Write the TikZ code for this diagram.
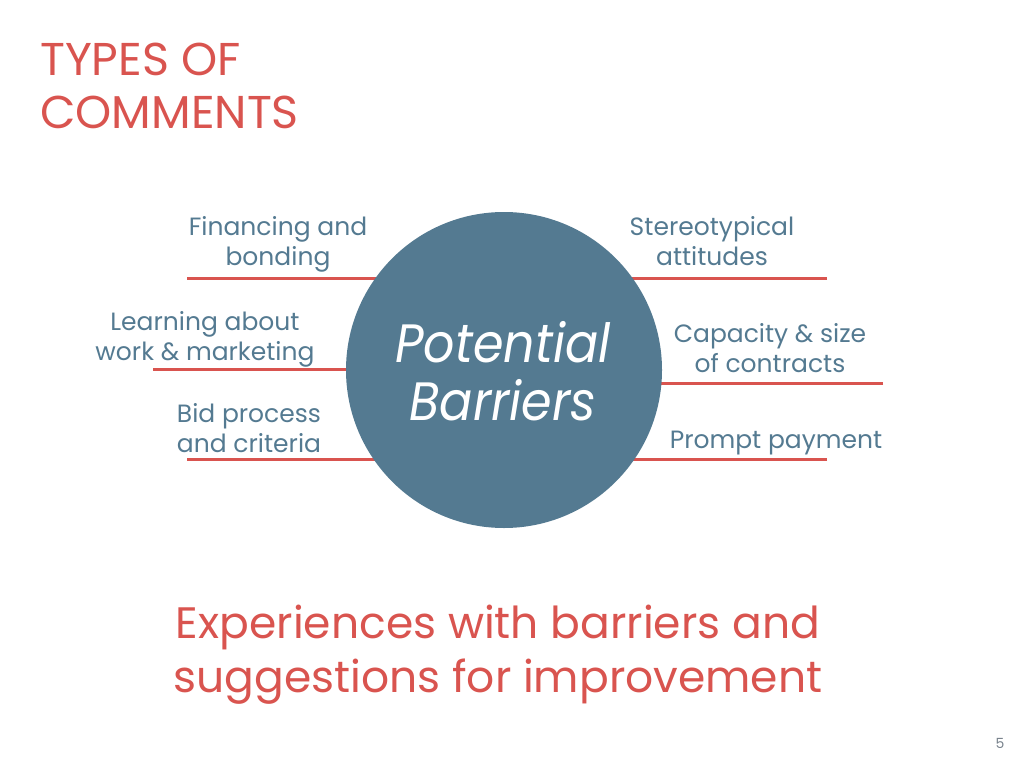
\documentclass[tikz,border=0pt]{standalone}
\usepackage{fontspec}
\setmainfont{Poppins}
\newfontfamily\circfont[FakeStretch=0.91]{Poppins}
\usetikzlibrary{positioning}
\definecolor{barred}{RGB}{217,84,79}
\definecolor{barblue}{RGB}{84,122,145}
\definecolor{numgray}{RGB}{120,130,140}

\begin{document}
\begin{tikzpicture}[x=1pt,y=-1pt,
    lbl/.style={text=barblue,align=center,inner sep=0pt,anchor=base,font=\fontsize{25}{30}\selectfont},
    bar/.style={draw=barred,line width=3pt},
    hub/.style={circle,fill=barblue,minimum size=316pt,inner sep=0pt}]
\useasboundingbox (0,0) rectangle (1024,768);
\node[anchor=base west,inner sep=0pt,text=barred,align=left,font=\fontsize{46}{53}\selectfont] (title) at (40,128) {TYPES OF\\COMMENTS};
\coordinate (o) at (504,370);
\coordinate (l1) at (187,278);
\coordinate (l2) at (153,369);
\coordinate (l3) at (187,459);
\coordinate (r1) at (827,278);
\coordinate (r2) at (883,383);
\coordinate (r3) at (827,459);
\foreach \p in {l1,l2,l3,r1,r2,r3}
    \draw[bar] (\p) -- (\p -| o);
\node[hub] (c) at (o) {};
\node[text=white,align=center,inner sep=0pt,anchor=base,font=\circfont\itshape\fontsize{54}{58}\selectfont] (barriers) at (503,420) {Potential\\Barriers};
\node[lbl] (fin) at (278,265) {Financing and\\bonding};
\node[lbl] (learn) at (205,360) {Learning about\\work \& marketing};
\node[lbl] (bid) at (249,452) {Bid process\\and criteria};
\node[lbl] (stereo) at (712,265) {Stereotypical\\attitudes};
\node[lbl] (cap) at (770,372) {Capacity \& size\\of contracts};
\node[lbl] (prompt) at (776,448) {Prompt payment};
\node[text=barred,align=center,inner sep=0pt,anchor=base,font=\fontsize{44}{54}\selectfont] (exp) at (498,692) {Experiences with barriers and\\suggestions for improvement};
\node[text=numgray,anchor=base,inner sep=0pt,font=\fontsize{14}{16}\selectfont] (page) at (1000,748) {5};
\end{tikzpicture}
\end{document}
